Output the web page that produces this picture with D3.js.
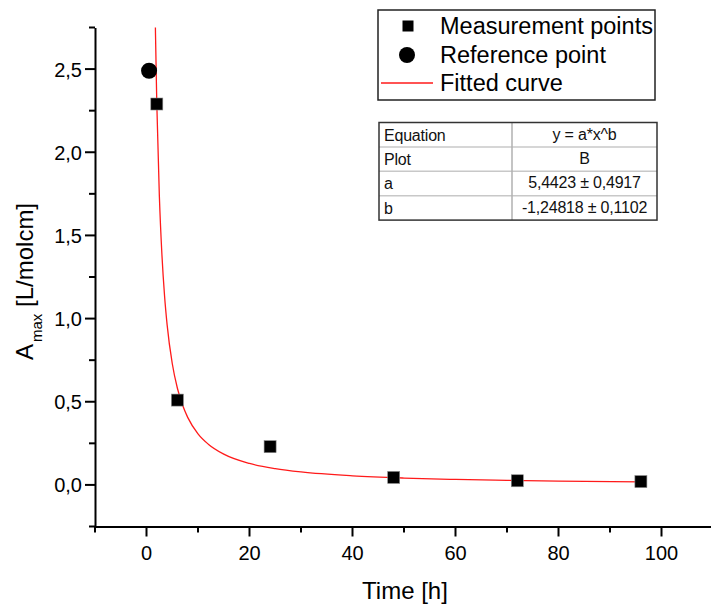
<!DOCTYPE html>
<html>
<head>
<meta charset="utf-8">
<script src="https://cdn.jsdelivr.net/npm/d3@7"></script>
<style>
  html, body { margin: 0; padding: 0; background: #fff; }
  svg { display: block; font-family: "Liberation Sans", Arial, sans-serif; }
</style>
</head>
<body>
<svg id="chart" width="711" height="604"></svg>
<script>
// ---------------- data ----------------
const measX = [2, 6, 24, 48, 72, 96];
const measY = [2.29, 0.51, 0.23, 0.045, 0.025, 0.02];
const refX = [0.5];
const refY = [2.49];
// fitted curve (y = a*x^b)
const fitX = [1.7, 1.75, 2, 2.5, 3, 3.5, 4, 5, 6, 7, 8, 10, 12, 15, 20, 25, 30, 40, 50, 60, 70, 80, 96];
const fitY = [2.806, 2.707, 2.291, 1.734, 1.381, 1.139, 0.964, 0.730, 0.581, 0.480, 0.406, 0.307, 0.245, 0.185, 0.129, 0.098, 0.078, 0.0545, 0.0412, 0.0328, 0.0271, 0.0229, 0.0183];
const xTicks = [0, 20, 40, 60, 80, 100];
const xTickLabels = ["0", "20", "40", "60", "80", "100"];
const xMinor = [-10, 10, 30, 50, 70, 90, 110];
const yTicks = [0, 0.5, 1.0, 1.5, 2.0, 2.5];
const yTickLabels = ["0,0", "0,5", "1,0", "1,5", "2,0", "2,5"];
const yMinor = [-0.25, 0.25, 0.75, 1.25, 1.75, 2.25, 2.75];
const legendLabels = ["Measurement points", "Reference point", "Fitted curve"];
const tableRows = [
  ["Equation", "y = a*x^b"],
  ["Plot", "B"],
  ["a", "5,4423 \u00b1 0,4917"],
  ["b", "-1,24818 \u00b1 0,1102"]
];
const xTitle = "Time [h]";

// ---------------- drawing ----------------
const svg = d3.select("#chart");
const x = d3.scaleLinear().domain([-10, 110]).range([95, 713]);
const y = d3.scaleLinear().domain([-0.25, 2.75]).range([526.5, 27.5]);
const FONT = "'Liberation Sans', Arial, sans-serif";
const X0 = x.range()[0], Y0 = y.range()[0];

svg.append("defs").append("clipPath").attr("id", "plotclip")
  .append("rect").attr("x", 95).attr("y", 27.5).attr("width", 620).attr("height", 499);

// fitted curve
const line = d3.line().x((d, i) => x(fitX[i])).y((d, i) => y(fitY[i])).curve(d3.curveMonotoneX);
svg.append("path")
  .attr("clip-path", "url(#plotclip)")
  .attr("d", line(fitX))
  .attr("fill", "none")
  .attr("stroke", "#ff1a1a")
  .attr("stroke-width", 1.3);

// measurement squares
const sq = 12;
svg.append("g").selectAll("rect").data(measX).join("rect")
  .attr("x", (d) => x(d) - sq / 2)
  .attr("y", (d, i) => y(measY[i]) - sq / 2)
  .attr("width", sq).attr("height", sq)
  .attr("fill", "#000").attr("stroke", "#888").attr("stroke-width", 0.6);

// reference circle
svg.append("g").selectAll("circle").data(refX).join("circle")
  .attr("cx", (d) => x(d))
  .attr("cy", (d, i) => y(refY[i]))
  .attr("r", 8).attr("fill", "#000");

// axes (domain lines via d3 axis, ticks drawn from the scales)
svg.append("g").attr("transform", `translate(0,${Y0})`)
  .call(d3.axisBottom(x).tickValues([]).tickSizeOuter(0))
  .call(g => g.select(".domain").attr("stroke", "#000").attr("stroke-width", 2));
svg.append("g").attr("transform", `translate(${X0},0)`)
  .call(d3.axisLeft(y).tickValues([]).tickSizeOuter(0))
  .call(g => g.select(".domain").attr("stroke", "#000").attr("stroke-width", 2));

const ticks = svg.append("g").attr("stroke", "#000").attr("stroke-width", 2);
ticks.selectAll("line.xmaj").data(xTicks).join("line").attr("class", "xmaj")
  .attr("x1", d => x(d)).attr("x2", d => x(d)).attr("y1", Y0).attr("y2", Y0 + 10);
ticks.selectAll("line.xmin").data(xMinor).join("line").attr("class", "xmin")
  .attr("x1", d => x(d)).attr("x2", d => x(d)).attr("y1", Y0).attr("y2", Y0 + 6);
ticks.selectAll("line.ymaj").data(yTicks).join("line").attr("class", "ymaj")
  .attr("y1", d => y(d)).attr("y2", d => y(d)).attr("x1", X0).attr("x2", X0 - 10);
ticks.selectAll("line.ymin").data(yMinor).join("line").attr("class", "ymin")
  .attr("y1", d => y(d)).attr("y2", d => y(d)).attr("x1", X0).attr("x2", X0 - 6);

svg.append("g").selectAll("text").data(xTicks).join("text")
  .attr("x", d => x(d)).attr("y", Y0 + 33).attr("text-anchor", "middle")
  .attr("font-family", FONT).attr("font-size", 20).attr("fill", "#000")
  .text((d, i) => xTickLabels[i]);
svg.append("g").selectAll("text").data(yTicks).join("text")
  .attr("x", X0 - 13).attr("y", d => y(d) + 7.5).attr("text-anchor", "end")
  .attr("font-family", FONT).attr("font-size", 20).attr("fill", "#000")
  .text((d, i) => yTickLabels[i]);

// axis titles
svg.append("text").attr("x", 405).attr("y", 599).attr("text-anchor", "middle")
  .attr("font-family", FONT).attr("font-size", 24).attr("fill", "#000").text(xTitle);

const yt = svg.append("text").attr("transform", "translate(33,360) rotate(-90)")
  .attr("font-family", FONT).attr("font-size", 24).attr("fill", "#000");
yt.append("tspan").text("A");
yt.append("tspan").attr("font-size", 15).attr("dy", 9).attr("dx", 2).text("max");
yt.append("tspan").attr("dy", -9).text(" [L/molcm]");

// legend
const lg = svg.append("g");
lg.append("rect").attr("x", 378).attr("y", 10).attr("width", 277).attr("height", 90)
  .attr("fill", "#fff").attr("stroke", "#222").attr("stroke-width", 1.5);
const rowY = [26, 55, 83];
lg.append("rect").attr("x", 408 - 5.5).attr("y", rowY[0] - 5.5).attr("width", 11).attr("height", 11).attr("fill", "#000");
lg.append("circle").attr("cx", 407).attr("cy", rowY[1]).attr("r", 8).attr("fill", "#000");
lg.append("line").attr("x1", 381).attr("x2", 433).attr("y1", rowY[2]).attr("y2", rowY[2])
  .attr("stroke", "#ff1a1a").attr("stroke-width", 1.3);
lg.selectAll("text.lab").data(legendLabels).join("text").attr("class", "lab")
  .attr("x", 440).attr("y", (d, i) => rowY[i] + 8)
  .attr("font-family", FONT).attr("font-size", 23.5).attr("fill", "#000").text(d => d);

// parameter table
const tb = svg.append("g");
const tx0 = 379, tx1 = 512, tx2 = 657, ty0 = 122.5, rh = 24.4;
tb.append("rect").attr("x", tx0).attr("y", ty0).attr("width", tx2 - tx0).attr("height", rh * tableRows.length)
  .attr("fill", "#fff");
for (let i = 1; i < tableRows.length; i++) {
  tb.append("line").attr("x1", tx0).attr("x2", tx2).attr("y1", ty0 + i * rh).attr("y2", ty0 + i * rh)
    .attr("stroke", "#c8c8c8").attr("stroke-width", 1.5);
}
tb.append("line").attr("x1", tx1).attr("x2", tx1).attr("y1", ty0).attr("y2", ty0 + rh * tableRows.length)
  .attr("stroke", "#b0b0b0").attr("stroke-width", 1.5);
tb.append("rect").attr("x", tx0).attr("y", ty0).attr("width", tx2 - tx0).attr("height", rh * tableRows.length)
  .attr("fill", "none").attr("stroke", "#333").attr("stroke-width", 1.5);
tableRows.forEach((r, i) => {
  tb.append("text").attr("x", 384).attr("y", ty0 + i * rh + 18)
    .attr("font-family", FONT).attr("font-size", 16).attr("letter-spacing", -0.2).attr("fill", "#111").text(r[0]);
  tb.append("text").attr("x", (tx1 + tx2) / 2).attr("y", ty0 + i * rh + 17).attr("text-anchor", "middle")
    .attr("font-family", FONT).attr("font-size", 16).attr("letter-spacing", -0.2).attr("fill", "#111").text(r[1]);
});
</script>
</body>
</html>
